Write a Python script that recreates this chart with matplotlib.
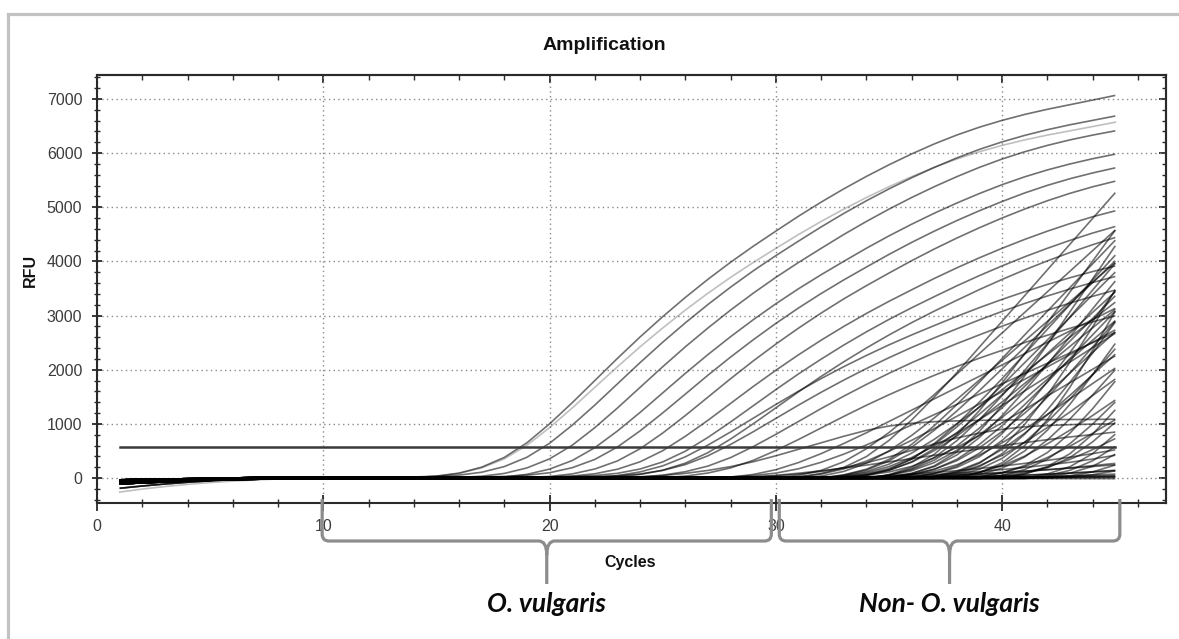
import numpy as np
import matplotlib
matplotlib.use("Agg")
import matplotlib.pyplot as plt
import matplotlib.transforms as mtransforms
from matplotlib.lines import Line2D
from matplotlib.patches import PathPatch
from matplotlib.path import Path
from matplotlib.ticker import MultipleLocator, NullFormatter

plt.rcParams["font.family"] = ["Liberation Sans", "DejaVu Sans"]

# ---------------------------------------------------------------- data
cycles = np.arange(1, 46)

# baseline shapes over cycles 1-10 (last value = level the well settles to)
baseline_drift = [
    [-35, -27, -20, -14, -9, -5, -2, 0, 0, 0],
    [-70, -52, -36, -22, -10, 0, 8, 14, 18, 20],
    [-110, -90, -72, -56, -42, -31, -23, -17, -13, -12],
    [-190, -148, -111, -79, -52, -30, -13, -1, 7, 10],
    [-260, -205, -158, -118, -85, -58, -36, -19, -7, 0],
]

# RFU above baseline; each list runs up to cycle 45
early_rfu = [
    [10, 35, 90, 200, 380, 650, 1000, 1390, 1800, 2210, 2605, 2980, 3335, 3670, 3985, 4280,
     4560, 4835, 5095, 5340, 5570, 5785, 5985, 6170, 6335, 6480, 6605, 6715, 6810, 6895, 6980, 7066],
    [10, 33, 86, 191, 363, 621, 955, 1327, 1719, 2111, 2488, 2846, 3185, 3505, 3806, 4087,
     4355, 4617, 4866, 5100, 5319, 5525, 5716, 5892, 6050, 6188, 6308, 6413, 6504, 6585, 6666],
    [9, 33, 84, 186, 353, 605, 930, 1293, 1674, 2055, 2423, 2771, 3102, 3413, 3706, 3980,
     4241, 4497, 4738, 4966, 5180, 5380, 5566, 5738, 5892, 6026, 6143, 6245, 6333, 6412],
    [9, 31, 79, 176, 334, 572, 880, 1223, 1584, 1945, 2292, 2622, 2935, 3230, 3507, 3766,
     4013, 4255, 4484, 4699, 4902, 5091, 5267, 5430, 5575, 5702, 5812, 5909, 5993],
    [9, 30, 77, 170, 323, 553, 850, 1182, 1530, 1879, 2214, 2533, 2835, 3120, 3387, 3638,
     3876, 4110, 4331, 4539, 4735, 4917, 5087, 5245, 5385, 5508, 5614, 5708],
    [8, 29, 75, 166, 315, 540, 830, 1154, 1494, 1834, 2162, 2473, 2768, 3046, 3308, 3552,
     3785, 4013, 4229, 4432, 4623, 4802, 4968, 5121, 5258, 5378, 5482],
    [8, 27, 68, 152, 289, 494, 760, 1056, 1368, 1680, 1980, 2265, 2535, 2789, 3029, 3253,
     3466, 3675, 3872, 4058, 4233, 4397, 4549, 4689, 4815, 4925],
    [7, 26, 66, 146, 277, 475, 730, 1015, 1314, 1613, 1902, 2175, 2435, 2679, 2909, 3124,
     3329, 3530, 3719, 3898, 4066, 4223, 4369, 4504, 4625],
    [7, 25, 65, 144, 274, 468, 720, 1001, 1296, 1591, 1876, 2146, 2401, 2642, 2869, 3082,
     3283, 3481, 3668, 3845, 4010, 4165, 4309, 4442],
    [6, 22, 56, 124, 236, 403, 620, 862, 1116, 1370, 1615, 1848, 2068, 2275, 2471, 2654,
     2827, 2998, 3159, 3311, 3453, 3587, 3711, 3825, 3928],
    [6, 21, 54, 120, 228, 390, 600, 834, 1080, 1326, 1563, 1788, 2001, 2202, 2391, 2568,
     2736, 2901, 3057, 3204, 3342, 3471, 3591, 3702],
    [6, 20, 52, 116, 220, 377, 580, 806, 1044, 1282, 1511, 1728, 1934, 2129, 2311, 2482,
     2645, 2804, 2955, 3097, 3231, 3355, 3471],
    [5, 18, 47, 104, 198, 338, 520, 723, 936, 1149, 1355, 1550, 1734, 1908, 2072, 2226,
     2371, 2514, 2649, 2777, 2896, 3008],
]
early_drift = [0, 1, 0, 2, 1, 0, 3, 1, 0, 2, 1, 0, 2, 1]

faint_rfu = [
    [9, 33, 84, 186, 353, 605, 930, 1293, 1674, 2055, 2423, 2771, 3102, 3413, 3706, 3980,
     4241, 4497, 4738, 4966, 5180, 5380, 5566, 5738, 5892, 6026, 6143, 6245, 6333, 6412, 6491, 6571],
]
faint_drift = [4]

late_rfu = [
    [62, 175, 375, 675, 1050, 1475, 1925, 2400, 2875, 3350, 3825, 4300, 4775, 5250],
    [58, 161, 345, 621, 966, 1357, 1771, 2208, 2645, 3082, 3519, 3956, 4393],
    [60, 168, 360, 648, 1008, 1416, 1848, 2304, 2760, 3216, 3672, 4128],
    [52, 147, 315, 567, 882, 1239, 1617, 2016, 2415, 2814, 3213, 3612, 4011],
    [55, 154, 330, 594, 924, 1298, 1694, 2112, 2530, 2948, 3366, 3784],
    [65, 182, 390, 702, 1092, 1534, 2002, 2496, 2990, 3484, 3978],
    [55, 154, 330, 594, 924, 1298, 1694, 2112, 2530, 2948, 3366],
    [68, 189, 405, 729, 1134, 1593, 2079, 2592, 3105, 3618],
    [58, 161, 345, 621, 966, 1357, 1771, 2208, 2645, 3082],
    [75, 210, 450, 810, 1260, 1770, 2310, 2880, 3450],
    [62, 175, 375, 675, 1050, 1475, 1925, 2400, 2875],
    [75, 210, 450, 810, 1260, 1770, 2310, 2880],
    [62, 175, 375, 675, 1050, 1475, 1925, 2400],
    [80, 224, 480, 864, 1344, 1888, 2464],
    [65, 182, 390, 702, 1092, 1534, 2002],
    [75, 210, 450, 810, 1260, 1770],
    [60, 168, 360, 648, 1008, 1416],
    [75, 210, 450, 810, 1260],
    [60, 168, 360, 648, 1008],
    [75, 210, 450, 810],
    [55, 154, 330, 594],
    [70, 196, 420],
    [40, 112, 240],
    [40, 112],
    [50, 140, 300, 540, 840, 1180, 1540, 1920, 2300, 2680, 3060, 3440, 3820, 4200, 4580],
    [48, 133, 285, 513, 798, 1121, 1463, 1824, 2185, 2546, 2907, 3268, 3629, 3990],
    [45, 126, 270, 486, 756, 1062, 1386, 1728, 2070, 2412, 2754, 3096],
    [48, 133, 285, 513, 798, 1121, 1463, 1824, 2185, 2546, 2907],
    [38, 105, 225, 405, 630, 885, 1155, 1440, 1725, 2010],
    [40, 112, 240, 432, 672, 944, 1232, 1536, 1840],
    [38, 105, 225, 405, 630, 885, 1155, 1440],
    [32, 91, 195, 351, 546, 767, 1001, 1248, 1495, 1742, 1989, 2236],
    [35, 98, 210, 378, 588, 826, 1078, 1344, 1610, 1876, 2142, 2408, 2674],
    [30, 84, 180, 324, 504, 708, 924, 1152, 1380, 1608, 1836, 2064, 2292, 2520, 2748],
    [25, 70, 150, 270, 420, 590, 770, 960, 1150, 1340, 1530, 1720, 1910, 2100, 2290, 2480, 2670],
    [35, 98, 210, 378, 588, 826, 1078],
    [30, 84, 180, 324, 504, 708],
    [80, 224, 480, 864, 1344, 1888, 2464, 3072, 3680, 4288],
    [75, 210, 450, 810, 1260, 1770, 2310, 2880, 3450, 4020, 4590],
    [50, 140, 300, 540, 840, 1180, 1540, 1920, 2300, 2680, 3060, 3440],
    [50, 140, 300, 540, 840, 1180, 1540, 1920, 2300, 2680],
    [50, 140, 300, 540, 840, 1180, 1540, 1920, 2300],
    [42, 119, 255, 459, 714, 1003, 1309, 1632, 1955, 2278, 2601, 2924, 3247],
    [90, 252, 540, 972, 1512, 2124, 2772, 3456],
    [100, 280, 600, 1080, 1680, 2360, 3080],
    [28, 77, 165, 297, 462, 649, 847, 1056, 1265, 1474, 1683, 1892, 2101, 2310, 2519, 2728,
     2937, 3146],
]
late_drift = [1, 0, 2, 0, 1, 2, 0, 1, 0, 3,
              1, 0, 2, 1, 0, 1, 2, 0, 1, 0,
              2, 1, 0, 1, 0, 2, 1, 0, 1, 2,
              0, 1, 0, 2, 1, 0, 1, 0, 2, 0,
              1, 2, 0, 1, 0, 2]

low_rfu = [
    [20, 45, 85, 140, 210, 300, 410, 530, 650, 770, 880, 960, 1010, 1040, 1055, 1065, 1070,
     1075, 1078, 1080, 1082, 1085],
    [20, 50, 100, 170, 260, 370, 490, 610, 720, 810, 880, 925, 950, 965, 975, 980],
    [10, 30, 60, 100, 145, 195, 250, 310, 370, 430, 490, 550, 610, 665, 720, 770, 815, 860],
    [10, 25, 45, 70, 100, 135, 175, 220, 270, 325, 385, 450, 520],
    [10, 25, 45, 70, 100, 135, 175, 220, 270, 330, 400],
    [10, 22, 38, 58, 82, 110, 142, 178, 218, 260],
    [8, 18, 30, 45, 62, 82, 104, 128, 154, 182, 212, 244],
    [8, 18, 30, 45, 62, 82, 104, 128, 154],
    [5, 12, 22, 35, 50, 68, 90, 116],
    [5, 12, 20, 30, 42, 56, 72],
    [4, 9, 16, 24, 34, 46],
    [3, 7, 12, 18, 25],
    [3, 6, 10, 14],
    [],
    [],
]
low_drift = [0, 1, 2, 0, 1, 3, 0, 2, 1, 0, 2, 1, 0, 1, 2]

threshold_rfu = 580
threshold_cycles = [1, 45]

x_ticks = [0, 10, 20, 30, 40]
y_ticks = [0, 1000, 2000, 3000, 4000, 5000, 6000, 7000]

brace_spans = [(9.95, 29.8), (30.15, 45.2)]
brace_labels = ["O. vulgaris", "Non- O. vulgaris"]

# ---------------------------------------------------------------- figure
W, H = 1179, 639
fig = plt.figure(figsize=(W / 100, H / 100), dpi=100)
fig.patch.set_facecolor("white")

# light frame around the panel
frame_kw = dict(color="#c2c2c2", linewidth=2.3, transform=fig.transFigure)
fig.add_artist(Line2D([8 / W, 8 / W], [0, 1 - 14 / H], **frame_kw))
fig.add_artist(Line2D([8 / W, 1], [1 - 14 / H, 1 - 14 / H], **frame_kw))

ax = fig.add_axes([97 / W, 1 - 503 / H, (1166 - 97) / W, (503 - 75) / H])
ax.set_xlim(0, 47.24)
ax.set_ylim(-462, 7443)


def trace(rise, drift):
    y = np.full(cycles.size, float(drift[-1]))
    y[:len(drift)] = drift
    if len(rise):
        y[cycles.size - len(rise):] += np.asarray(rise, dtype=float)
    return y


well_kw = dict(color="black", alpha=0.56, linewidth=1.2, solid_capstyle="butt")
for rise, d in zip(faint_rfu, faint_drift):
    ax.plot(cycles, trace(rise, baseline_drift[d]), color="black", alpha=0.25, linewidth=1.2)
for group, drifts in ((low_rfu, low_drift), (late_rfu, late_drift), (early_rfu, early_drift)):
    for rise, d in zip(group, drifts):
        ax.plot(cycles, trace(rise, baseline_drift[d]), **well_kw)

ax.plot(threshold_cycles, [threshold_rfu] * 2, color="#3a3a3a", linewidth=1.8)

# grid, spines and ticks
ax.set_xticks(x_ticks)
ax.set_yticks(y_ticks)
ax.xaxis.set_minor_locator(MultipleLocator(2))
ax.yaxis.set_minor_locator(MultipleLocator(200))
ax.grid(which="major", color="#8a8a8a", linestyle=(0, (1, 2.4)), linewidth=1.0)
ax.set_axisbelow(True)
for sp in ax.spines.values():
    sp.set_color("#2a2a2a")
    sp.set_linewidth(1.5)

ax.tick_params(which="both", direction="inout", color="#2a2a2a", labelcolor="#3c3c3c",
               labelsize=11.5)
ax.tick_params(axis="x", which="major", length=11.5, width=1.3, pad=6)
ax.tick_params(axis="x", which="minor", length=5.8, width=1.0)
ax.tick_params(axis="y", which="major", length=7.2, width=1.3, pad=7)
ax.tick_params(axis="y", which="minor", length=4.3, width=1.0)

secx = ax.secondary_xaxis("top")
secx.set_xticks(x_ticks)
secx.xaxis.set_minor_locator(MultipleLocator(2))
secx.xaxis.set_major_formatter(NullFormatter())
secx.tick_params(which="major", direction="in", length=6, width=1.3, color="#2a2a2a")
secx.tick_params(which="minor", direction="in", length=3.6, width=1.0, color="#2a2a2a")
secx.spines["top"].set_color("#2a2a2a")
secx.spines["top"].set_linewidth(1.5)

secy = ax.secondary_yaxis("right")
secy.set_yticks(y_ticks)
secy.yaxis.set_minor_locator(MultipleLocator(200))
secy.yaxis.set_major_formatter(NullFormatter())
secy.tick_params(which="major", direction="in", length=5, width=1.3, color="#2a2a2a")
secy.tick_params(which="minor", direction="in", length=3, width=1.0, color="#2a2a2a")
secy.spines["right"].set_color("#2a2a2a")
secy.spines["right"].set_linewidth(1.5)

# titles
fig.text(604 / W, 1 - 46 / H, "Amplification", ha="center", va="center",
         fontsize=14, fontweight="bold", color="#111111")
fig.text(30 / W, 1 - 270 / H, "RFU", ha="center", va="center", rotation=90,
         fontsize=11.5, fontweight="bold", color="#111111")
fig.text(630 / W, 1 - 562 / H, "Cycles", ha="center", va="center",
         fontsize=11.5, fontweight="bold", color="#111111")

# curly braces grouping the cycle ranges
bt = mtransforms.blended_transform_factory(ax.transData, fig.transFigure)
y_top, y_mid, y_tip = 1 - 499 / H, 1 - 541 / H, 1 - 584 / H
rv, rx = 7 / H, 7 / 22.63
tv, tx = 14 / H, 8 / 22.63
for (x0, x1), label in zip(brace_spans, brace_labels):
    xm = (x0 + x1) / 2
    verts = [
        (x0, y_top), (x0, y_mid + rv), (x0, y_mid), (x0 + rx, y_mid),
        (xm - tx, y_mid), (xm, y_mid), (xm, y_mid - tv), (xm, y_tip),
        (x1, y_top), (x1, y_mid + rv), (x1, y_mid), (x1 - rx, y_mid),
        (xm + tx, y_mid), (xm, y_mid), (xm, y_mid - tv),
    ]
    codes = [
        Path.MOVETO, Path.LINETO, Path.CURVE3, Path.CURVE3,
        Path.LINETO, Path.CURVE3, Path.CURVE3, Path.LINETO,
        Path.MOVETO, Path.LINETO, Path.CURVE3, Path.CURVE3,
        Path.LINETO, Path.CURVE3, Path.CURVE3,
    ]
    patch = PathPatch(Path(verts, codes), facecolor="none", edgecolor="#8c8c8c",
                      linewidth=2.3, transform=bt, clip_on=False)
    fig.add_artist(patch)
    fig.text(xm, 1 - 604 / H, label, transform=bt, ha="center", va="center",
             fontsize=19, fontweight="bold", style="italic", family=["Lato", "DejaVu Sans"],
             color="#0a0a0a")

fig.savefig("out.png", dpi=100, facecolor="white")
